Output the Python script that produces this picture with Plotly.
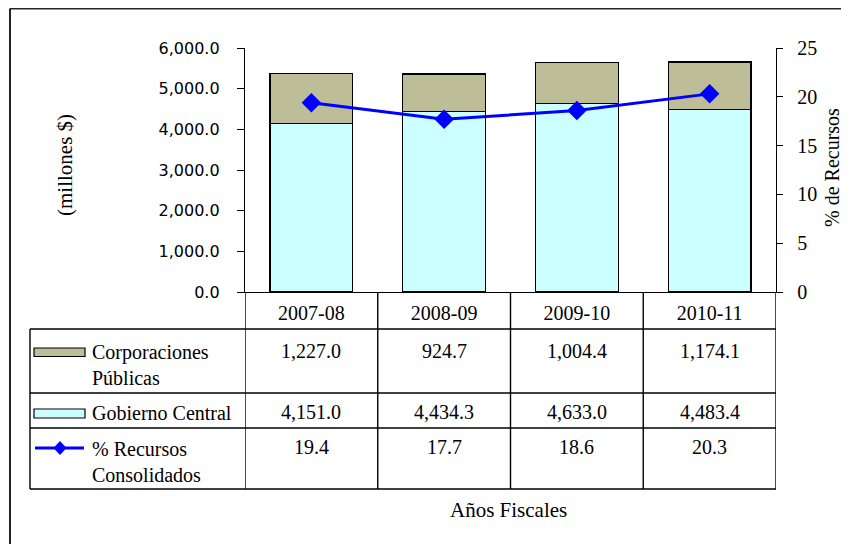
import plotly.graph_objects as go

# ---- data ----
years = ["2007-08", "2008-09", "2009-10", "2010-11"]
corporaciones = [1227.0, 924.7, 1004.4, 1174.1]
gobierno = [4151.0, 4434.3, 4633.0, 4483.4]
recursos_pct = [19.4, 17.7, 18.6, 20.3]
series_names = ["Corporaciones Públicas", "Gobierno Central", "% Recursos Consolidados"]
row_labels = ["Corporaciones<br>Públicas", "Gobierno Central", "% Recursos<br>Consolidados"]

# ---- geometry helpers (window pixel -> paper); page body has an 8px margin ----
OFF = 8
W, H = 849 - OFF, 544 - OFF
L, R, T, B = 245 - OFF, 73, 48 - OFF, 252
pw = W - L - R
ph = H - T - B


def px(x):
    return (x - OFF - L) / pw


def py(y):
    return (H - B - (y - OFF)) / ph


SERIF = "Liberation Serif"
SANS = "DejaVu Sans"
TAN = "#BDBD98"
CYAN = "#CCFFFF"
BLUE = "#0000FF"
FS = 20

fig = go.Figure()
fig.add_trace(go.Bar(x=years, y=gobierno, name=series_names[1],
                     marker=dict(color=CYAN, line=dict(color="black", width=1.3))))
fig.add_trace(go.Bar(x=years, y=corporaciones, name=series_names[0],
                     marker=dict(color=TAN, line=dict(color="black", width=1.3))))
fig.add_trace(go.Scatter(x=years, y=recursos_pct, name=series_names[2], yaxis="y2",
                         mode="lines+markers",
                         line=dict(color=BLUE, width=3),
                         marker=dict(symbol="diamond", size=15, color=BLUE)))

shapes = []
LW = 1.4
# outer border (left and top edges only are visible in the window)
shapes.append(dict(type="line", xref="paper", yref="paper",
                   x0=px(10), x1=px(870), y0=py(8.5), y1=py(8.5),
                   line=dict(color="#222", width=2)))
shapes.append(dict(type="line", xref="paper", yref="paper",
                   x0=px(10), x1=px(10), y0=py(8.5), y1=py(570),
                   line=dict(color="#222", width=2)))
# table horizontal lines
for yy in [329, 393, 428, 489]:
    shapes.append(dict(type="line", xref="paper", yref="paper",
                       x0=px(30), x1=px(776), y0=py(yy), y1=py(yy),
                       line=dict(color="black", width=LW)))
# table vertical lines
shapes.append(dict(type="line", xref="paper", yref="paper",
                   x0=px(30), x1=px(30), y0=py(329), y1=py(489),
                   line=dict(color="black", width=LW)))
for k in range(len(years) + 1):
    xc = k - 0.5
    shapes.append(dict(type="line", xref="x", yref="paper",
                       x0=xc, x1=xc, y0=py(292.5), y1=py(489),
                       line=dict(color="black", width=LW)))
# legend keys
shapes.append(dict(type="rect", xref="paper", yref="paper",
                   x0=px(34), x1=px(85), y0=py(348), y1=py(356.5),
                   fillcolor=TAN, line=dict(color="black", width=1.2)))
shapes.append(dict(type="rect", xref="paper", yref="paper",
                   x0=px(34), x1=px(85), y0=py(409), y1=py(418),
                   fillcolor=CYAN, line=dict(color="black", width=1.2)))
shapes.append(dict(type="line", xref="paper", yref="paper",
                   x0=px(35), x1=px(84), y0=py(448), y1=py(448),
                   line=dict(color=BLUE, width=3)))
cx, cy, hw, hh = 60, 448, 6, 6.5
shapes.append(dict(type="path", xref="paper", yref="paper",
                   path=f"M {px(cx-hw)} {py(cy)} L {px(cx)} {py(cy-hh)} L {px(cx+hw)} {py(cy)} L {px(cx)} {py(cy+hh)} Z",
                   fillcolor=BLUE, line=dict(color=BLUE, width=1)))

annotations = []
# table values
rows = [(corporaciones, 351), (gobierno, 412), (recursos_pct, 447)]
for vals, yc in rows:
    for yr, v in zip(years, vals):
        annotations.append(dict(x=yr, xref="x", y=py(yc), yref="paper",
                                text=f"{v:,.1f}", showarrow=False,
                                xanchor="center", yanchor="middle",
                                font=dict(family=SERIF, size=FS, color="black")))
# row labels
for lab, yc in zip(row_labels, [365, 413, 461.5]):
    annotations.append(dict(x=px(90), xref="paper", y=py(yc), yref="paper",
                            text=lab, showarrow=False, align="left",
                            xanchor="left", yanchor="middle",
                            font=dict(family=SERIF, size=FS, color="black")))
# axis titles
annotations.append(dict(x=px(65), xref="paper", y=py(165), yref="paper",
                        text="(millones $)", textangle=-90, showarrow=False,
                        xanchor="center", yanchor="middle",
                        font=dict(family=SERIF, size=21, color="black")))
annotations.append(dict(x=px(832), xref="paper", y=py(168), yref="paper",
                        text="% de Recursos", textangle=-90, showarrow=False,
                        xanchor="center", yanchor="middle",
                        font=dict(family=SERIF, size=FS, color="black")))
annotations.append(dict(x=px(508), xref="paper", y=py(510), yref="paper",
                        text="Años Fiscales", showarrow=False,
                        xanchor="center", yanchor="middle",
                        font=dict(family=SERIF, size=21, color="black")))

fig.update_layout(
    width=W, height=H,
    margin=dict(l=L, r=R, t=T, b=B),
    paper_bgcolor="white", plot_bgcolor="white",
    barmode="stack", bargap=0.377,
    showlegend=False,
    xaxis=dict(type="category", range=[-0.5, 3.5], showline=True,
               linecolor="black", linewidth=LW, ticks="", showgrid=False,
               tickfont=dict(family=SERIF, size=FS, color="black"),
               ticklabelstandoff=3),
    yaxis=dict(range=[0, 6000], dtick=1000, tickformat=",.1f",
               ticks="outside", ticklen=7, tickwidth=LW, tickcolor="black",
               showline=True, linecolor="black", linewidth=LW,
               showgrid=False, zeroline=False,
               tickfont=dict(family=SANS, size=16, color="black"),
               ticklabelstandoff=14),
    yaxis2=dict(range=[0, 25], dtick=5, overlaying="y", side="right",
                ticks="outside", ticklen=6, tickwidth=LW, tickcolor="black",
                showline=True, linecolor="black", linewidth=LW,
                showgrid=False, zeroline=False,
                tickfont=dict(family=SERIF, size=FS, color="black"),
                ticklabelstandoff=10),
    shapes=shapes,
    annotations=annotations,
)

fig.write_html("out.html")
